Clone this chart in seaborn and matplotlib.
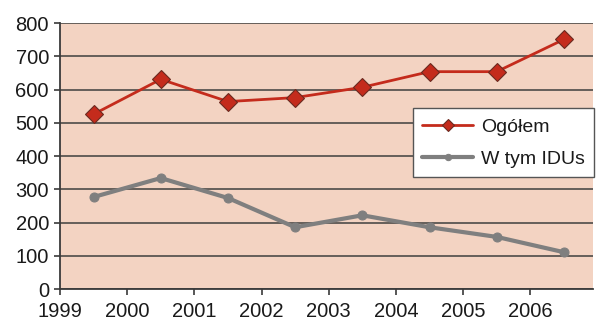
import numpy as np
import pandas as pd
import matplotlib
matplotlib.use("Agg")
import matplotlib.pyplot as plt
import seaborn as sns

years = ["1999", "2000", "2001", "2002", "2003", "2004", "2005", "2006"]
ogolem = [526, 631, 564, 576, 607, 654, 654, 751]
idus = [277, 334, 274, 186, 222, 186, 157, 111]
series_names = ["Ogółem", "W tym IDUs"]

sns.set_theme(style="white")
plt.rcParams["font.family"] = ["Liberation Sans", "DejaVu Sans"]

pos = np.arange(len(years)) + 0.5
df = pd.DataFrame({
    "x": np.concatenate([pos, pos]),
    "value": ogolem + idus,
    "series": [series_names[0]] * len(years) + [series_names[1]] * len(years),
})

fig = plt.figure(figsize=(6.0, 3.35), dpi=100)
ax = fig.add_axes([0.1, 0.137, 0.888, 0.794])
ax.set_facecolor("#F3D3C2")

red = "#C42B1C"
gray = "#7F7F7F"

sns.lineplot(data=df[df.series == series_names[0]], x="x", y="value", ax=ax,
             color=red, lw=2.0, marker="D", markersize=9,
             markeredgecolor="#6B2A20", markeredgewidth=0.8,
             label=series_names[0])
sns.lineplot(data=df[df.series == series_names[1]], x="x", y="value", ax=ax,
             color=gray, lw=3.0, marker="o", markersize=6.5,
             markeredgecolor=gray, label=series_names[1])

ax.set_xlim(0, 7.93)
ax.set_ylim(0, 800)
ax.set_yticks(range(0, 801, 100))
ax.set_xticks(np.arange(len(years)))
ax.set_xticklabels(years)
ax.set_xlabel("")
ax.set_ylabel("")

ax.yaxis.grid(True, color="#5A5552", lw=1.3)
ax.set_axisbelow(True)
for s in ["top", "right"]:
    ax.spines[s].set_visible(False)
ax.spines["left"].set_color("#3A3A3A")
ax.spines["bottom"].set_color("#3A3A3A")
ax.spines["left"].set_linewidth(1.3)
ax.spines["bottom"].set_linewidth(1.3)
ax.tick_params(axis="both", which="both", direction="out", length=4,
               width=1.2, color="#3A3A3A", labelsize=14.5, labelcolor="#1A1A1A",
               left=True, bottom=True)
ax.tick_params(axis="x", pad=5)
ax.tick_params(axis="y", pad=4)

leg = ax.legend(loc="upper left", bbox_to_anchor=(0.662, 0.68), frameon=True,
                fancybox=False, fontsize=14, borderpad=0.5,
                labelspacing=0.75, handlelength=2.6, handletextpad=0.4,
                borderaxespad=0, markerscale=0.7)
leg.get_frame().set_edgecolor("#555555")
leg.get_frame().set_linewidth(1.0)
leg.get_frame().set_facecolor("white")
leg.get_frame().set_alpha(1.0)
for t in leg.get_texts():
    t.set_color("#1A1A1A")

fig.savefig("out.png", dpi=100, facecolor="white")
